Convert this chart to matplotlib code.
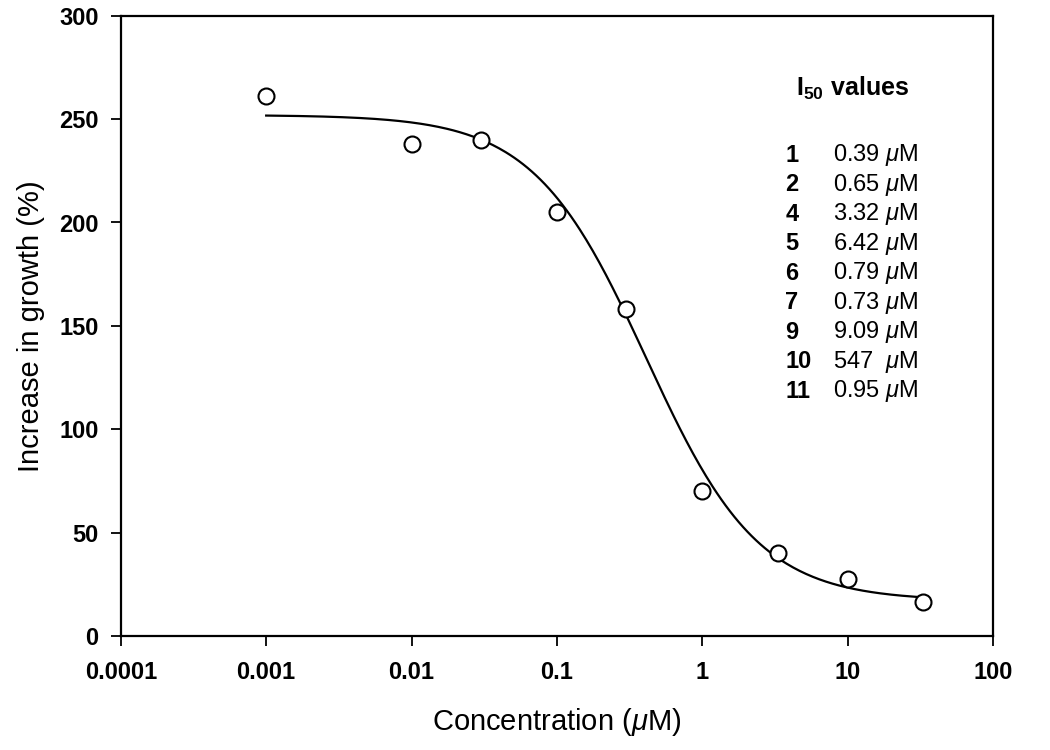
import numpy as np
import matplotlib
matplotlib.use('Agg')
import matplotlib.pyplot as plt

plt.rcParams['font.family'] = ['Liberation Sans', 'DejaVu Sans']
plt.rcParams['mathtext.fontset'] = 'custom'
plt.rcParams['mathtext.rm'] = 'Liberation Sans'
plt.rcParams['mathtext.it'] = 'Liberation Sans:italic'
plt.rcParams['mathtext.bf'] = 'Liberation Sans:bold'

# measured points
conc = [0.001, 0.01, 0.03, 0.1, 0.3, 1, 3.3, 10, 33]
growth = [261, 238, 240, 205, 158, 70, 40, 27.5, 16.5]

# 4-parameter logistic fit shown as the line
fit_top = 252
fit_bottom = 17
fit_ic50 = 0.41
fit_hill = 1.12
fit_end = 30

# I50 table
compounds = ['1', '2', '4', '5', '6', '7', '9', '10', '11']
i50_values = ['0.39', '0.65', '3.32', '6.42', '0.79', '0.73', '9.09', '547 ', '0.95']

xticks = [0.0001, 0.001, 0.01, 0.1, 1, 10, 100]
xticklabels = ['0.0001', '0.001', '0.01', '0.1', '1', '10', '100']
yticks = [0, 50, 100, 150, 200, 250, 300]


def logistic(x):
    return fit_bottom + (fit_top - fit_bottom) / (1 + (x / fit_ic50) ** fit_hill)


fig = plt.figure(figsize=(10.5, 7.5), dpi=100)
ax = fig.add_axes([0.115, 0.152, 0.831, 0.827])

xs = np.logspace(np.log10(conc[0]), np.log10(fit_end), 300)
ax.plot(xs, logistic(xs), color='black', lw=1.6, zorder=2)
ax.plot(conc, growth, 'o', ms=11.5, mfc='white', mec='black', mew=1.5, zorder=3)

ax.set_xscale('log')
ax.set_xlim(0.0001, 100)
ax.set_ylim(0, 300)
ax.set_xticks(xticks)
ax.set_xticklabels(xticklabels)
ax.xaxis.set_minor_locator(matplotlib.ticker.NullLocator())
ax.set_yticks(yticks)
for lbl in ax.get_xticklabels() + ax.get_yticklabels():
    lbl.set_fontweight('bold')
    lbl.set_fontsize(17)
ax.tick_params(direction='out', length=7, width=1.3)
ax.tick_params(axis='x', pad=11)
ax.tick_params(axis='y', pad=9)
for s in ax.spines.values():
    s.set_linewidth(1.6)

ax.set_xlabel(r'Concentration ($\mathit{\mu}$M)', fontsize=21, labelpad=16)
ax.set_ylabel('Increase in growth (%)', fontsize=21, labelpad=10)

# I50 legend block
fig.text(0.812, 0.882, r'$\mathbf{I_{50}}$ values', fontsize=18, fontweight='bold',
         ha='center', va='center')
row_y0 = 0.793
row_dy = 0.0393
for i, (c, v) in enumerate(zip(compounds, i50_values)):
    y = row_y0 - i * row_dy
    fig.text(0.748, y, c, fontsize=17, fontweight='bold', ha='left', va='center')
    fig.text(0.793, y, v + r' $\mathit{\mu}$M', fontsize=17, ha='left', va='center')

fig.savefig('out.png', dpi=100)
